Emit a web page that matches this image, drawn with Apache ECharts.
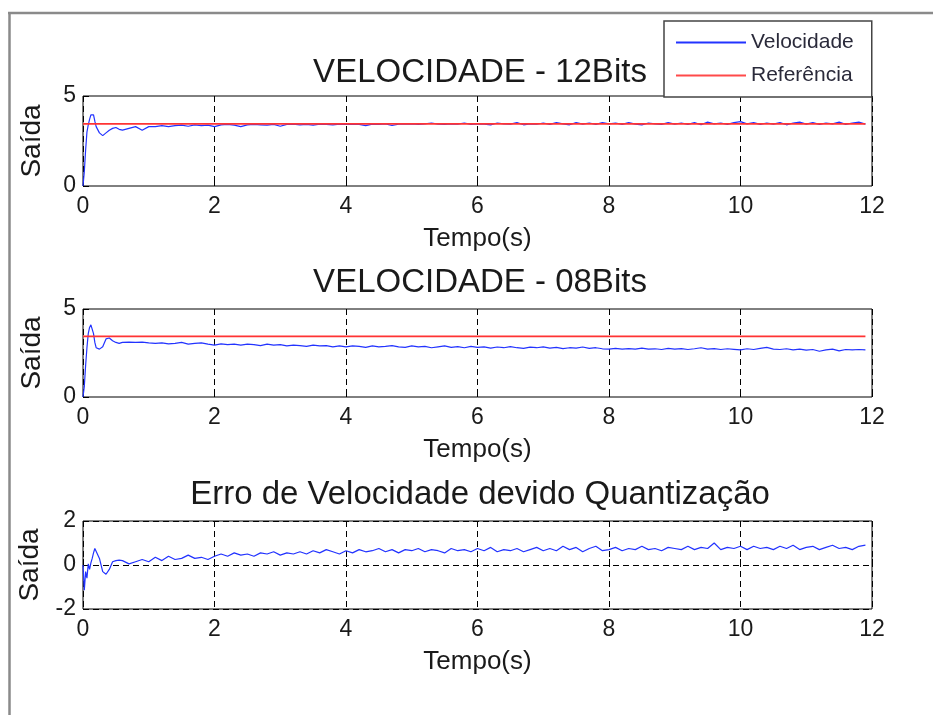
<!DOCTYPE html>
<html>
<head>
<meta charset="utf-8">
<script src="https://cdn.jsdelivr.net/npm/echarts@6/dist/echarts.min.js"></script>
<style>html,body{margin:0;padding:0;background:#fff;}#c{width:933px;height:715px;}</style>
</head>
<body>
<div id="c"></div>
<script>
// ---- data ----
const titles = ['VELOCIDADE - 12Bits', 'VELOCIDADE - 08Bits', 'Erro de Velocidade devido Quantização'];
const xTicks = [0, 2, 4, 6, 8, 10, 12];
const yRange1 = [0, 5];
const yRange3 = [-2, 2];
const refLevel = 3.45;

const time = [
  0, 0.02, 0.04, 0.06, 0.08, 0.1, 0.12, 0.14, 0.16, 0.18, 0.2, 0.25, 0.3, 0.35, 0.4, 0.45, 0.5, 0.55, 0.6, 0.7, 0.8, 0.9, 1.0,
  1.1, 1.2, 1.3, 1.4, 1.5, 1.6, 1.7, 1.8, 1.9, 2.0,
  2.1, 2.2, 2.3, 2.4, 2.5, 2.6, 2.7, 2.8, 2.9, 3.0,
  3.1, 3.2, 3.3, 3.4, 3.5, 3.6, 3.7, 3.8, 3.9, 4.0,
  4.1, 4.2, 4.3, 4.4, 4.5, 4.6, 4.7, 4.8, 4.9, 5.0,
  5.1, 5.2, 5.3, 5.4, 5.5, 5.6, 5.7, 5.8, 5.9, 6.0,
  6.1, 6.2, 6.3, 6.4, 6.5, 6.6, 6.7, 6.8, 6.9, 7.0,
  7.1, 7.2, 7.3, 7.4, 7.5, 7.6, 7.7, 7.8, 7.9, 8.0,
  8.1, 8.2, 8.3, 8.4, 8.5, 8.6, 8.7, 8.8, 8.9, 9.0,
  9.1, 9.2, 9.3, 9.4, 9.5, 9.6, 9.7, 9.8, 9.9, 10.0,
  10.1, 10.2, 10.3, 10.4, 10.5, 10.6, 10.7, 10.8, 10.9, 11.0,
  11.1, 11.2, 11.3, 11.4, 11.5, 11.6, 11.7, 11.8, 11.9
];

const vel12 = [
  0, 0.8, 2.0, 3.0, 3.4, 3.7, 3.95, 4.05, 3.95, 3.6, 3.3, 2.95, 2.8, 2.95, 3.1, 3.2, 3.25, 3.15, 3.1, 3.2, 3.3, 3.1, 3.3,
  3.3, 3.35, 3.3, 3.35, 3.38, 3.32, 3.4, 3.35, 3.38, 3.3,
  3.4, 3.42, 3.38, 3.3, 3.4, 3.42, 3.4, 3.38, 3.42, 3.32,
  3.42, 3.44, 3.4, 3.42, 3.38, 3.44, 3.42, 3.4, 3.44, 3.42,
  3.44, 3.42, 3.35, 3.44, 3.42, 3.45, 3.36, 3.44, 3.43, 3.45,
  3.42, 3.45, 3.5, 3.44, 3.42, 3.45, 3.44, 3.5, 3.42, 3.45,
  3.44, 3.4, 3.5, 3.45, 3.44, 3.52, 3.4, 3.45, 3.43, 3.5,
  3.42, 3.52, 3.45, 3.4, 3.52, 3.44, 3.5, 3.42, 3.52, 3.45,
  3.5, 3.42, 3.52, 3.44, 3.4, 3.5, 3.45, 3.42, 3.52, 3.44,
  3.5, 3.42, 3.52, 3.4, 3.55, 3.45, 3.5, 3.42, 3.52, 3.58,
  3.45, 3.52, 3.42, 3.5, 3.44, 3.52, 3.4, 3.5, 3.55, 3.44,
  3.52, 3.42, 3.5, 3.45, 3.55, 3.42, 3.5, 3.55, 3.44
];

const vel08 = [
  0, 0.6, 1.8, 2.8, 3.6, 3.95, 4.1, 4.05, 3.6, 3.1, 2.8, 2.72, 2.85, 3.3, 3.35, 3.2, 3.1, 3.05, 3.1, 3.12, 3.1, 3.12, 3.08,
  3.05, 3.08, 3.02, 3.05, 3.1, 3.0, 3.05, 3.08, 3.0, 2.95,
  3.02, 2.98, 3.0, 2.95, 3.0, 2.98, 2.92, 3.0, 2.95, 2.98,
  2.9, 2.95, 2.92, 2.88, 2.95, 2.9, 2.92, 2.85, 2.9, 2.85,
  2.9, 2.88, 2.82, 2.9, 2.85, 2.88, 2.92, 2.85, 2.82, 2.9,
  2.85, 2.88, 2.8, 2.85, 2.9, 2.82, 2.86, 2.8, 2.88, 2.82,
  2.85, 2.78, 2.84, 2.8, 2.86, 2.8, 2.76, 2.83, 2.8, 2.85,
  2.78, 2.82, 2.75, 2.8, 2.78, 2.84, 2.76, 2.8, 2.74, 2.72,
  2.76, 2.72, 2.75, 2.72, 2.78, 2.72, 2.74, 2.7, 2.76, 2.72,
  2.75, 2.7, 2.74, 2.8, 2.72, 2.75, 2.7, 2.74, 2.71, 2.68,
  2.74, 2.7, 2.76, 2.82, 2.72, 2.7, 2.74, 2.68, 2.72, 2.66,
  2.7, 2.6, 2.68, 2.72, 2.62, 2.7, 2.68, 2.7, 2.68
];

const erro = [
  0, -1.15, -0.3, -0.6, 0.05, -0.2, 0.1, 0.3, 0.55, 0.75, 0.82, 0.3, -0.3, -0.42, -0.2, 0.15, 0.2, 0.22, 0.2, 0.05, 0.15, 0.25, 0.15,
  0.35, 0.2, 0.4, 0.25, 0.3, 0.45, 0.3, 0.35, 0.25, 0.4,
  0.5, 0.4, 0.55, 0.45, 0.5, 0.4, 0.55, 0.5, 0.6, 0.45,
  0.55, 0.5, 0.6, 0.5, 0.65, 0.55, 0.7, 0.6, 0.5, 0.65,
  0.55, 0.7, 0.6, 0.65, 0.75, 0.6, 0.7, 0.55, 0.7, 0.65,
  0.75, 0.6, 0.7, 0.65, 0.55, 0.75, 0.65, 0.7, 0.6, 0.75,
  0.65, 0.8, 0.6, 0.7, 0.65, 0.75, 0.6, 0.7, 0.8, 0.65,
  0.75, 0.65, 0.85, 0.7, 0.8, 0.6, 0.75, 0.85, 0.65, 0.7,
  0.8, 0.65, 0.75, 0.7, 0.85, 0.7, 0.75, 0.65, 0.8, 0.75,
  0.7, 0.85, 0.7, 0.8, 0.75, 1.0, 0.7, 0.8, 0.75, 0.85,
  0.7, 0.85, 0.75, 0.8, 0.7, 0.85, 0.75, 0.9, 0.7, 0.8,
  0.85, 0.7, 0.8, 0.9, 0.75, 0.8, 0.7, 0.85, 0.9
];

// ---- chart ----
const FONT = '"Liberation Sans", Arial, sans-serif';
const TXT = '#1a1a1a';
const BLUE = '#2233ff';
const RED = '#ff3333';
const grids = [
  {left: 83, right: 61, top: 96, height: 90},
  {left: 83, right: 61, top: 309, height: 88},
  {left: 83, right: 61, top: 521, height: 88}
];
const titleTops = [51, 261, 473];
const yRanges = [yRange1, yRange1, yRange3];
const yIntervals = [5, 5, 2];

const pair = (arr) => time.map((t, i) => [t, arr[i]]);
const refLine = [[time[0], refLevel], [time[time.length - 1], refLevel]];

const xAxes = [], yAxes = [];
grids.forEach((g, i) => {
  xAxes.push({
    gridIndex: i, type: 'value', min: xTicks[0], max: xTicks[xTicks.length - 1], interval: 2,
    position: 'bottom',
    name: 'Tempo(s)', nameLocation: 'middle', nameGap: 40,
    nameTextStyle: {fontFamily: FONT, fontSize: 26, color: TXT},
    axisLine: {show: false},
    axisTick: {show: true, inside: true, length: 6, lineStyle: {color: '#000'}},
    axisLabel: {fontFamily: FONT, fontSize: 23, color: TXT, margin: 9},
    splitLine: {show: true, lineStyle: {color: '#000', type: [6, 4], width: 1}}
  });
  xAxes.push({
    gridIndex: i, type: 'value', min: xTicks[0], max: xTicks[xTicks.length - 1], interval: 2,
    position: 'top',
    axisLine: {show: false},
    axisTick: {show: true, inside: true, length: 6, lineStyle: {color: '#000'}},
    axisLabel: {show: false}, splitLine: {show: false}
  });
  yAxes.push({
    gridIndex: i, type: 'value', min: yRanges[i][0], max: yRanges[i][1], interval: yIntervals[i],
    name: 'Saída', nameLocation: 'middle', nameGap: 37,
    nameTextStyle: {fontFamily: FONT, fontSize: 28, color: TXT},
    axisLine: {show: false},
    axisTick: {show: true, inside: true, length: 6, lineStyle: {color: '#000'}},
    axisLabel: {fontFamily: FONT, fontSize: 23, color: TXT, margin: 7},
    splitLine: {show: i === 2, lineStyle: {color: '#000', type: [6, 4], width: 1}}
  });
});

const chart = echarts.init(document.getElementById('c'), null, {renderer: 'canvas'});
chart.setOption({
  animation: false,
  backgroundColor: '#fff',
  title: titles.map((t, i) => ({
    text: t, left: 475, top: titleTops[i], textAlign: 'center',
    textStyle: {fontFamily: FONT, fontSize: 33, fontWeight: 'normal', color: TXT}
  })),
  legend: {
    orient: 'vertical', left: 664, top: 21,
    padding: [8, 18, 8, 12], itemGap: 6,
    backgroundColor: '#fff', borderColor: '#444', borderWidth: 1.5,
    itemWidth: 70, itemHeight: 2, itemTextGap: 6,
    textStyle: {fontFamily: FONT, fontSize: 21, color: '#2a2a3a', lineHeight: 27},
    data: [{name: 'Velocidade', icon: 'rect'}, {name: 'Referência', icon: 'rect'}]
  },
  grid: grids.map(g => Object.assign({show: true, borderColor: '#000', borderWidth: 1, backgroundColor: 'transparent'}, g)),
  xAxis: xAxes,
  yAxis: yAxes,
  graphic: [
    {type: 'line', shape: {x1: 8, y1: 13, x2: 933, y2: 13}, style: {stroke: '#8a8a8a', lineWidth: 2.5}, silent: true},
    {type: 'line', shape: {x1: 9.5, y1: 13, x2: 9.5, y2: 715}, style: {stroke: '#8a8a8a', lineWidth: 2.5}, silent: true}
  ],
  series: [
    {name: 'Velocidade', type: 'line', xAxisIndex: 0, yAxisIndex: 0, data: pair(vel12), symbol: 'none',
      lineStyle: {color: BLUE, width: 1.2}, itemStyle: {color: BLUE}, z: 2},
    {name: 'Referência', type: 'line', xAxisIndex: 0, yAxisIndex: 0, data: refLine, symbol: 'none',
      lineStyle: {color: RED, width: 1.8}, itemStyle: {color: '#ff4a4a'}, z: 3},
    {name: 'Velocidade', type: 'line', xAxisIndex: 2, yAxisIndex: 1, data: pair(vel08), symbol: 'none',
      lineStyle: {color: BLUE, width: 1.2}, itemStyle: {color: BLUE}, z: 2},
    {name: 'Referência', type: 'line', xAxisIndex: 2, yAxisIndex: 1, data: refLine, symbol: 'none',
      lineStyle: {color: RED, width: 1.8}, itemStyle: {color: '#ff4a4a'}, z: 3},
    {name: 'Erro', type: 'line', xAxisIndex: 4, yAxisIndex: 2, data: pair(erro), symbol: 'none',
      lineStyle: {color: BLUE, width: 1.2}, itemStyle: {color: BLUE}, z: 2}
  ]
});
</script>
</body>
</html>
